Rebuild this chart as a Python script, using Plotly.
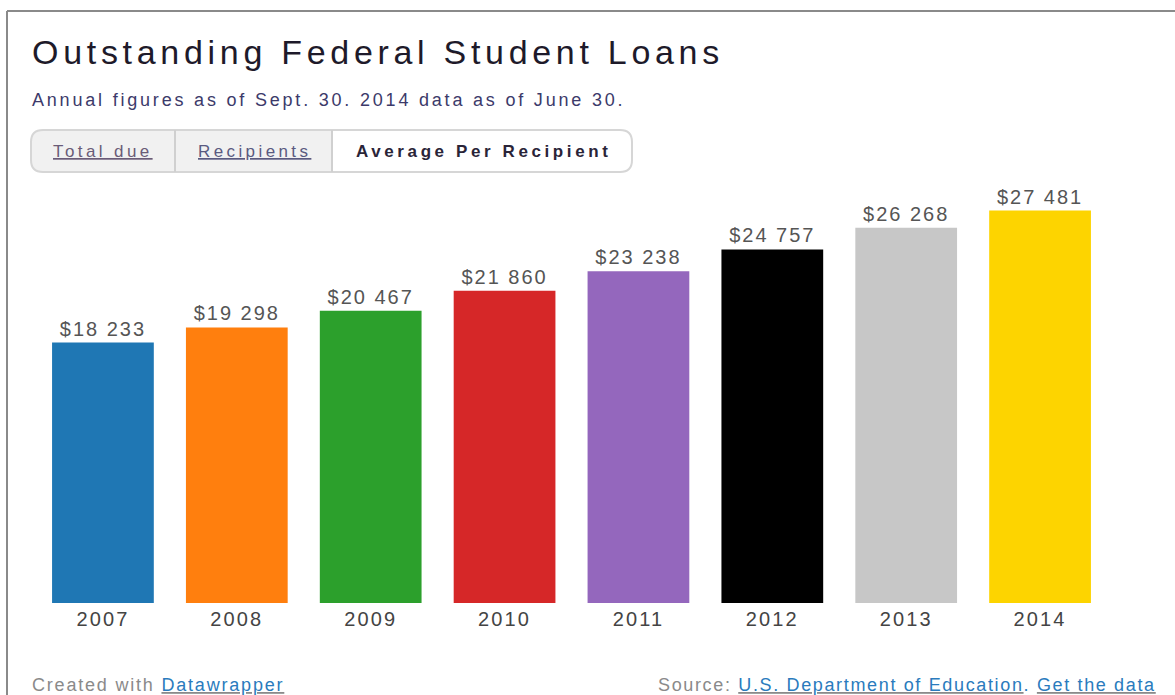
import plotly.graph_objects as go

# Average outstanding federal student loan balance per recipient
years = ["2007", "2008", "2009", "2010", "2011", "2012", "2013", "2014"]
avg_per_recipient = [18233, 19298, 20467, 21860, 23238, 24757, 26268, 27481]
bar_colors = ["#1f77b4", "#ff7f0e", "#2ca02c", "#d62728",
              "#9467bd", "#000000", "#c7c7c7", "#fdd400"]

W, H = 1175, 695
FONT = "Liberation Sans, Arial, sans-serif"


def px_x(x):
    return x / W


def px_y(y):
    return 1 - y / H


def spaced(text, ls):
    """Wrap text in a span with extra letter spacing."""
    return f"<span style='letter-spacing:{ls}px'>{text}</span>"


labels = [spaced("$" + f"{v:,}".replace(",", " "), 2) for v in avg_per_recipient]

fig = go.Figure(go.Bar(
    x=years,
    y=avg_per_recipient,
    marker=dict(color=bar_colors, line=dict(width=0)),
    text=labels,
    textposition="outside",
    textfont=dict(family=FONT, size=20, color="#555555"),
    cliponaxis=False,
    hoverinfo="skip",
))

shapes = [
    # outer frame (top and left edges)
    dict(type="line", xref="paper", yref="paper", x0=px_x(7), x1=1.0,
         y0=px_y(11), y1=px_y(11), line=dict(color="#8a8a8a", width=2)),
    dict(type="line", xref="paper", yref="paper", x0=px_x(7), x1=px_x(7),
         y0=px_y(11), y1=0, line=dict(color="#8a8a8a", width=2)),
]

# tab strip: inactive tabs shaded, active tab white, rounded outline
tab_left, tab_right, tab_top, tab_bot = 31, 632, 130, 172
r = 12
shapes.append(dict(
    type="path", xref="paper", yref="paper",
    path=(f"M {px_x(tab_left + r)},{px_y(tab_top)} L {px_x(332)},{px_y(tab_top)} "
          f"L {px_x(332)},{px_y(tab_bot)} L {px_x(tab_left + r)},{px_y(tab_bot)} "
          f"Q {px_x(tab_left)},{px_y(tab_bot)} {px_x(tab_left)},{px_y(tab_bot - r)} "
          f"L {px_x(tab_left)},{px_y(tab_top + r)} "
          f"Q {px_x(tab_left)},{px_y(tab_top)} {px_x(tab_left + r)},{px_y(tab_top)} Z"),
    fillcolor="#f1f1f1", line=dict(width=0)))
shapes.append(dict(
    type="path", xref="paper", yref="paper",
    path=(f"M {px_x(tab_left + r)},{px_y(tab_top)} L {px_x(tab_right - r)},{px_y(tab_top)} "
          f"Q {px_x(tab_right)},{px_y(tab_top)} {px_x(tab_right)},{px_y(tab_top + r)} "
          f"L {px_x(tab_right)},{px_y(tab_bot - r)} "
          f"Q {px_x(tab_right)},{px_y(tab_bot)} {px_x(tab_right - r)},{px_y(tab_bot)} "
          f"L {px_x(tab_left + r)},{px_y(tab_bot)} "
          f"Q {px_x(tab_left)},{px_y(tab_bot)} {px_x(tab_left)},{px_y(tab_bot - r)} "
          f"L {px_x(tab_left)},{px_y(tab_top + r)} "
          f"Q {px_x(tab_left)},{px_y(tab_top)} {px_x(tab_left + r)},{px_y(tab_top)} Z"),
    fillcolor="rgba(0,0,0,0)", line=dict(color="#d6d6d6", width=2)))
for xd in (175, 332):
    shapes.append(dict(type="line", xref="paper", yref="paper",
                       x0=px_x(xd), x1=px_x(xd), y0=px_y(tab_top), y1=px_y(tab_bot),
                       line=dict(color="#d0d0d0", width=2)))


def note(text, x, y, xanchor, size, color):
    return dict(text=text, x=px_x(x), y=px_y(y), xref="paper", yref="paper",
                xanchor=xanchor, yanchor="middle", showarrow=False,
                font=dict(family=FONT, size=size, color=color))


LINK = "#2a7bbd"
annotations = [
    note(spaced("Outstanding Federal Student Loans", 4.7), 30, 52, "left", 34, "#1e1a2a"),
    note(spaced("Annual figures as of Sept. 30. 2014 data as of June 30.", 2.8),
         30, 100, "left", 18, "#3c3a6a"),
    note(spaced("<u>Total due</u>", 3.4), 103, 151, "center", 17, "#6a5c78"),
    note(spaced("<u>Recipients</u>", 3.4), 254, 151, "center", 17, "#5a5a80"),
    note(spaced("<b>Average Per Recipient</b>", 3.6), 483, 151, "center", 17, "#2a2438"),
    note(spaced(f"Created with <u><span style='color:{LINK}'>Datawrapper</span></u>", 1.8),
         30, 685, "left", 18, "#8a8a8a"),
    note(spaced(f"Source: <u><span style='color:{LINK}'>U.S. Department of Education</span></u>"
                f"<span style='color:{LINK}'>. </span>"
                f"<u><span style='color:{LINK}'>Get the data</span></u>", 1.65),
         1158, 685, "right", 18, "#8a8a8a"),
]

fig.update_layout(
    width=W, height=H,
    margin=dict(l=0, r=0, t=0, b=0),
    paper_bgcolor="white", plot_bgcolor="white",
    showlegend=False,
    bargap=0.24,
    shapes=shapes,
    annotations=annotations,
    xaxis=dict(domain=[px_x(36), px_x(1107)], range=[-0.5, 7.5],
               showgrid=False, showline=False,
               zeroline=False, ticks="", automargin=False, ticklabelstandoff=2,
               tickmode="array", tickvals=years,
               ticktext=[spaced(y, 2.1) for y in years],
               tickfont=dict(family=FONT, size=20, color="#444444")),
    yaxis=dict(domain=[px_y(603), px_y(196)], range=[0, 28500], visible=False,
               automargin=False),
)

fig.write_html("out.html")
